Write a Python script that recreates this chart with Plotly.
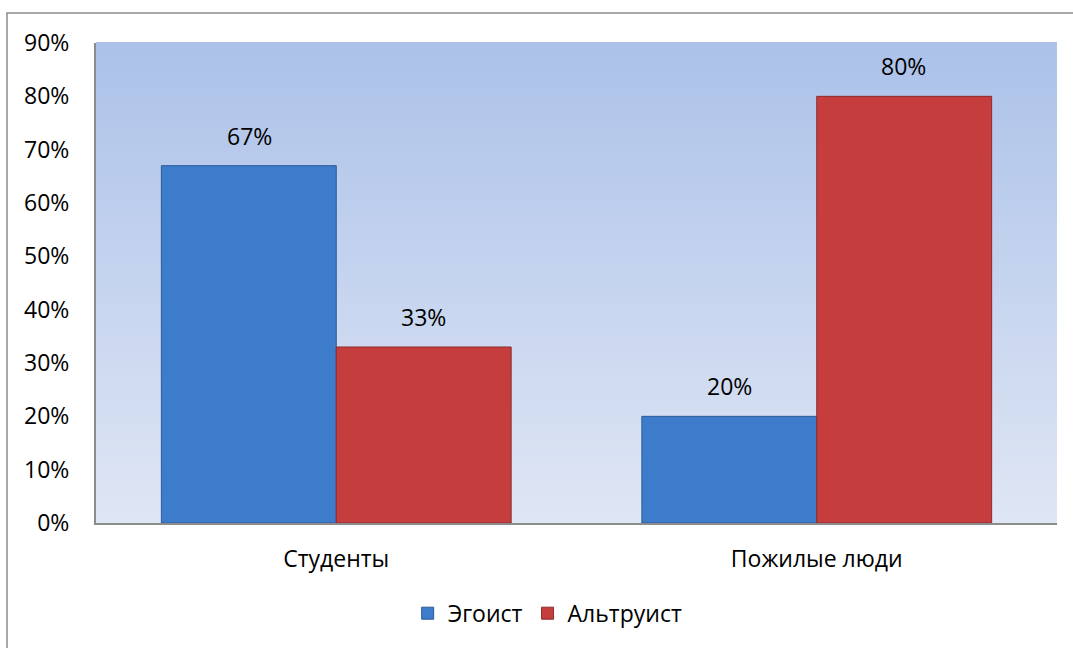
import plotly.graph_objects as go

categories = ["Студенты", "Пожилые люди"]
series_names = ["Эгоист", "Альтруист"]
egoist = [0.67, 0.20]
altruist = [0.33, 0.80]
tick_vals = [0, 0.1, 0.2, 0.3, 0.4, 0.5, 0.6, 0.7, 0.8, 0.9]
tick_text = ["0%", "10%", "20%", "30%", "40%", "50%", "60%", "70%", "80%", "90%"]

FONT = "Open Sans"
FS = 23
fig = go.Figure()
fig.add_bar(name=series_names[0], x=categories, y=egoist,
            marker=dict(color="#3d7bcb", line=dict(color="#2c5a96", width=1)))
fig.add_bar(name=series_names[1], x=categories, y=altruist,
            marker=dict(color="#c63d3d", line=dict(color="#8e2a2a", width=1)))

# value labels
for vals, shift in ((egoist, -87), (altruist, 87)):
    for c, v in zip(categories, vals):
        fig.add_annotation(x=c, y=v, text=f"{round(v*100)}%", showarrow=False,
                           xshift=shift, yshift=12, yanchor="bottom",
                           font=dict(family=FONT, size=FS, color="#000"))

# gradient background of plot area
N = 60
top = (172, 194, 233)
bot = (223, 230, 244)
for i in range(N):
    t = i / (N - 1)
    col = tuple(round(bot[k] + (top[k] - bot[k]) * t) for k in range(3))
    fig.add_shape(type="rect", xref="paper", yref="paper", x0=0, x1=1,
                  y0=i / N, y1=(i + 1) / N + 0.002, layer="below",
                  line=dict(width=0), fillcolor=f"rgb{col}")

# outer border
fig.add_shape(type="rect", xref="paper", yref="paper", x0=-0.0926, x1=1.03,
              y0=-0.3, y1=1.0624, line=dict(color="#8c8c8c", width=1.5),
              fillcolor="rgba(0,0,0,0)", layer="below")

fig.update_layout(
    width=1073, height=648,
    margin=dict(l=96, r=16, t=43, b=124.5),
    paper_bgcolor="white", plot_bgcolor="rgba(0,0,0,0)",
    barmode="group", bargap=0.272, bargroupgap=0,
    font=dict(family=FONT, size=FS, color="#000"),
    legend=dict(orientation="h", x=0.47, xanchor="center", y=-0.188, yanchor="middle",
                font=dict(family=FONT, size=23), itemwidth=30, traceorder="normal"),
    showlegend=True,
)
fig.update_xaxes(showline=True, linecolor="#8c8c8c", linewidth=2, showgrid=False,
                 ticks="outside", ticklen=14, tickcolor="rgba(0,0,0,0)",
                 tickfont=dict(family=FONT, size=FS))
fig.update_yaxes(range=[0, 0.9], tickvals=tick_vals, ticktext=tick_text,
                 showline=True, linecolor="#8c8c8c", linewidth=2, showgrid=False,
                 zeroline=False, ticks="outside", ticklen=20, tickcolor="rgba(0,0,0,0)",
                 tickfont=dict(family=FONT, size=FS))

fig.write_html("out.html", config={"displayModeBar": False},
               post_script="document.body.style.margin='0';")
